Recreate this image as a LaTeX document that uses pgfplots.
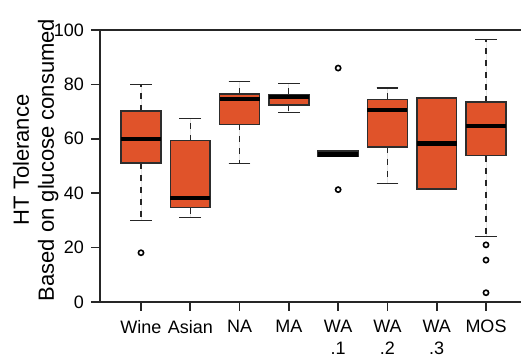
\documentclass[border=0pt]{standalone}
\usepackage{fontspec}
\setmainfont{Liberation Sans}
\usepackage{pgfplots}
\pgfplotsset{compat=1.18}
\usepgfplotslibrary{statistics}
\definecolor{boxc}{RGB}{224,83,42}
\definecolor{edgec}{RGB}{45,45,45}
\pgfplotsset{
  /pgfplots/boxplot/draw/lower whisker/.code={%
    \draw[/pgfplots/boxplot/every whisker/.try, dashed]
      (boxplot box cs:\pgfplotsboxplotvalue{lower quartile},0.5) --
      (boxplot box cs:\pgfplotsboxplotvalue{lower whisker},0.5);
    \draw[/pgfplots/boxplot/every whisker/.try, solid]
      (boxplot whisker cs:\pgfplotsboxplotvalue{lower whisker},0) --
      (boxplot whisker cs:\pgfplotsboxplotvalue{lower whisker},1);
  },
  /pgfplots/boxplot/draw/upper whisker/.code={%
    \draw[/pgfplots/boxplot/every whisker/.try, dashed]
      (boxplot box cs:\pgfplotsboxplotvalue{upper quartile},0.5) --
      (boxplot box cs:\pgfplotsboxplotvalue{upper whisker},0.5);
    \draw[/pgfplots/boxplot/every whisker/.try, solid]
      (boxplot whisker cs:\pgfplotsboxplotvalue{upper whisker},0) --
      (boxplot whisker cs:\pgfplotsboxplotvalue{upper whisker},1);
  },
}
\begin{document}
\begin{tikzpicture}
\begin{axis}[
  scale only axis,
  width=210.5pt, height=136pt,
  xmin=0.168, xmax=8.71,
  ymin=0, ymax=100,
  separate axis lines,
  x axis line style={line width=1pt, black!85},
  y axis line style={draw=none},
  xtick pos=left, ytick pos=left,
  tick style={line width=0.8pt, black!85},
  tick align=outside,
  major tick length=4.5pt,
  xtick={1,2,3,4,5,6,7,8},
  xticklabels={Wine,Asian,NA,MA,{WA\\.1},{WA\\.2},{WA\\.3},MOS},
  xticklabel style={align=center, font=\fontsize{9}{11}\selectfont, anchor=north, yshift=-1pt},
  ytick={0,20,40,60,80,100},
  yticklabel style={font=\fontsize{9}{11}\selectfont},
  /pgf/number format/assume math mode=true,
  ylabel={HT Tolerance\\Based on glucose consumed},
  ylabel style={align=center, font=\fontsize{11}{12.5}\selectfont, at={(axis description cs:-0.153,0.522)}, anchor=center},
  boxplot/draw direction=y,
  boxplot/box extend=0.81,
  boxplot/whisker extend=0.44,
  boxplot/every median/.style={line width=2.1pt, black},
  boxplot/every whisker/.style={line width=0.6pt, black!85},
  clip=false,
]
\draw[line width=1pt, black!85] (rel axis cs:0,0) -- (rel axis cs:0,1);
\pgfplotsinvokeforeach{1,2,3,4,5,6,7,8}{\draw[line width=0.8pt, black!85] (axis cs:#1,0) -- (axis cs:#1,-3.3);}
\pgfplotsinvokeforeach{0,20,40,60,80,100}{\draw[line width=0.8pt, black!85] (axis cs:0.168,#1) -- (axis cs:-0.015,#1);}
\pgfplotsset{bx/.style={fill=boxc, draw=edgec, line width=0.8pt, solid, mark=o, mark size=1.3pt, mark options={black, line width=0.8pt, solid}}}
% Wine
\addplot[bx, boxplot prepared={draw position=1, lower whisker=30.1, lower quartile=51.1, median=60, upper quartile=70.3, upper whisker=80}] coordinates {(0,18.1)};
% Asian
\addplot[bx, boxplot prepared={draw position=2, lower whisker=31.1, lower quartile=34.7, median=38.1, upper quartile=59.3, upper whisker=67.4}] coordinates {};
% NA
\addplot[bx, boxplot prepared={draw position=3, lower whisker=51, lower quartile=65.3, median=74.5, upper quartile=76.5, upper whisker=81.1}] coordinates {};
% MA
\addplot[bx, boxplot prepared={draw position=4, lower whisker=69.6, lower quartile=72.5, median=75.5, upper quartile=76.3, upper whisker=80.3}] coordinates {};
% WA.1
\addplot[bx, boxplot prepared={draw position=5, lower whisker=53.6, lower quartile=53.6, median=54.2, upper quartile=55.6, upper whisker=55.6}] coordinates {(0,86) (0,41.3)};
% WA.2
\addplot[bx, boxplot prepared={draw position=6, lower whisker=43.5, lower quartile=57, median=70.5, upper quartile=74.5, upper whisker=78.7}] coordinates {};
% WA.3
\addplot[bx, boxplot prepared={draw position=7, lower whisker=41.5, lower quartile=41.5, median=58.3, upper quartile=75.1, upper whisker=75.1}] coordinates {};
% MOS
\addplot[bx, boxplot prepared={draw position=8, lower whisker=24, lower quartile=53.8, median=64.8, upper quartile=73.5, upper whisker=96.4}] coordinates {(0,21) (0,15.4) (0,3.4)};
\end{axis}
\pgfresetboundingbox
\useasboundingbox (-50pt,-30pt) rectangle (210.5pt,151pt);
\end{tikzpicture}
\end{document}
